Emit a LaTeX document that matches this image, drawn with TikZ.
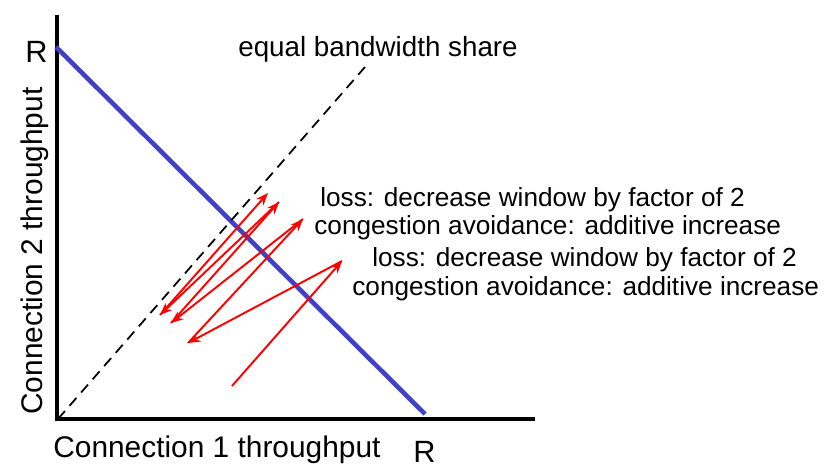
\documentclass[tikz,border=0pt]{standalone}
\usepackage{fontspec}
\setmainfont{Liberation Sans}
\usetikzlibrary{arrows.meta}

\definecolor{linkblue}{RGB}{64,64,200}

\begin{document}
\begin{tikzpicture}[x=0.02cm,y=-0.02cm,>=Stealth,
  axis/.style={line width=2.3pt},
  fair/.style={line width=1pt,dash pattern=on 6pt off 4pt},
  limit/.style={draw=linkblue,line width=2.6pt},
  move/.style={draw=red,->,line width=1.1pt,>={Stealth[length=7pt,width=5.5pt]}},
  lbl/.style={inner sep=0pt,anchor=base west,font=\fontsize{14.9}{17}\selectfont},
  big/.style={inner sep=0pt,anchor=base west,font=\fontsize{17}{20}\selectfont},
  rlbl/.style={inner sep=0pt,anchor=base west,font=\fontsize{17.5}{20}\selectfont}]
  \useasboundingbox (0,0) rectangle (831,476);

  % axes
  \coordinate (O) at (57,419);
  \coordinate (ytop) at (57,15);
  \coordinate (xend) at (535,419);
  \draw[axis] (57,421) -- (ytop);
  \draw[axis] (55,419) -- (xend);

  % capacity line and fair share
  \coordinate (Ry) at (56,47);
  \coordinate (Rx) at (425,414);
  \draw[limit] (Ry) -- (Rx);
  \coordinate (fairend) at (365,67);
  \draw[fair] (58,419) -- (fairend);

  % window trajectory
  \coordinate (w0) at (232,386);
  \coordinate (w1) at (342,261);
  \coordinate (w2) at (188,343);
  \coordinate (w3) at (303,219);
  \coordinate (w4) at (171,323);
  \coordinate (w5) at (279,202);
  \coordinate (w6) at (160,315);
  \coordinate (w7) at (268,193);
  \foreach \a/\b in {w0/w1,w1/w2,w2/w3,w3/w4,w4/w5,w5/w6,w6/w7}
    \draw[move] (\a) -- (\b);

  % labels
  \node[big,font=\fontsize{15.8}{19}\selectfont] (share) at (238,57) {equal bandwidth share};
  \node[lbl] (lossA) at (320,207) {loss: decrease window by factor of 2};
  \node[lbl] (incA) at (314,235) {congestion avoidance: additive increase};
  \node[lbl] (lossB) at (372,266) {loss: decrease window by factor of 2};
  \node[lbl] (incB) at (352,295) {congestion avoidance: additive increase};
  \node[big] (xlab) at (53,457) {Connection 1 throughput};
  \node[big,rotate=90] (ylab) at (42,415) {Connection 2 throughput};
  \node[rlbl] (Rlx) at (413,462) {R};
  \node[rlbl] (Rly) at (25,63) {R};
\end{tikzpicture}
\end{document}
